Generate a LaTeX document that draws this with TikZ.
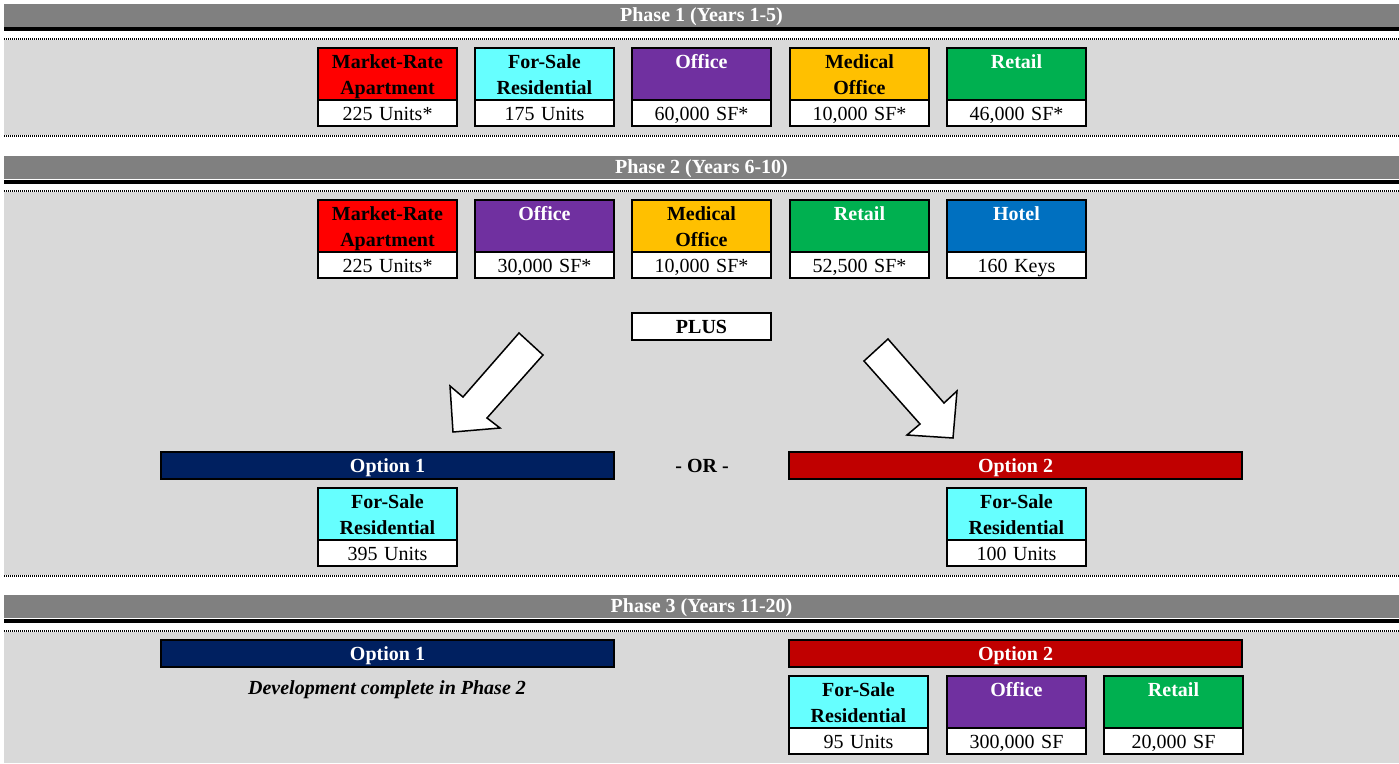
\documentclass[tikz,border=0pt]{standalone}
\usepackage{fontspec}
\setmainfont{Liberation Serif}
\usetikzlibrary{positioning}
\definecolor{bandgray}{RGB}{128,128,128}
\definecolor{panelgray}{RGB}{217,217,217}
\definecolor{aptred}{RGB}{255,0,0}
\definecolor{salecyan}{RGB}{102,255,255}
\definecolor{officepurple}{RGB}{112,48,160}
\definecolor{medyellow}{RGB}{255,192,0}
\definecolor{retailgreen}{RGB}{0,176,80}
\definecolor{hotelblue}{RGB}{0,112,192}
\definecolor{optnavy}{RGB}{0,32,96}
\definecolor{optred}{RGB}{192,0,0}
\newcommand{\cellstrut}{\rule[-5.8pt]{0pt}{26pt}}

\begin{document}
\begin{tikzpicture}[
        x=1pt, y=-1pt,
        every node/.style={
            inner sep=0pt,
            outer sep=0pt,
            font=\fontsize{20}{26}\selectfont
        },
        band/.style={
            fill=bandgray,
            text=white,
            font=\fontsize{20}{26}\selectfont\bfseries,
            text height=14pt,
            text depth=3pt,
            minimum width=1395pt,
            minimum height=23pt,
            anchor=north west
        },
        rule/.style={fill=black},
        dots/.style={draw=black, line width=2pt, dash pattern=on 1pt off 1pt},
        panel/.style={fill=panelgray},
        use/.style={
            draw,
            line width=2pt,
            text width=139pt,
            minimum height=52pt,
            align=center,
            anchor=north west,
            font=\fontsize{20}{26}\selectfont\bfseries,
            execute at begin node=\cellstrut,
            execute at end node=\cellstrut
        },
        qty/.style={
            draw,
            fill=white,
            line width=2pt,
            text width=139pt,
            minimum height=26pt,
            align=center,
            execute at begin node=\cellstrut
        },
        optbar/.style={
            draw,
            line width=2pt,
            text=white,
            text height=15pt,
            text depth=2pt,
            minimum width=453pt,
            minimum height=27pt,
            anchor=north west,
            font=\fontsize{20}{26}\selectfont\bfseries
        },
        plain/.style={
            text height=15pt,
            text depth=2pt,
            font=\fontsize{20}{26}\selectfont\bfseries
        },
        blockarrow/.style={draw, fill=white, line width=1.5pt, line join=miter}
    ]
    \useasboundingbox (0,0) rectangle (1399,763);

    % phase 1
    \node[band] (phase1) at (4,4) {Phase 1 (Years 1-5)};
    \fill[rule] (4,27) rectangle (1399,31);
    \fill[panel] (4,40) rectangle (1399,135);
    \draw[dots] (4,39) -- (1399,39);
    \draw[dots] (4,136) -- (1399,136);

    \node[use, fill=aptred] (p1apt) at (318,48) {Market-Rate\\Apartment};
    \node[qty, below=0pt of p1apt] (p1aptq) {225 Units*};
    \node[use, fill=salecyan] (p1sale) at (475,48) {For-Sale\\Residential};
    \node[qty, below=0pt of p1sale] (p1saleq) {175 Units};
    \node[use, fill=officepurple, text=white] (p1off) at (632,48) {Office\\};
    \node[qty, below=0pt of p1off] (p1offq) {60,000 SF*};
    \node[use, fill=medyellow] (p1med) at (790,48) {Medical\\Office};
    \node[qty, below=0pt of p1med] (p1medq) {10,000 SF*};
    \node[use, fill=retailgreen, text=white] (p1ret) at (947,48) {Retail\\};
    \node[qty, below=0pt of p1ret] (p1retq) {46,000 SF*};

    % phase 2
    \node[band] (phase2) at (4,156) {Phase 2 (Years 6-10)};
    \fill[rule] (4,180) rectangle (1399,184);
    \fill[panel] (4,192) rectangle (1399,575);
    \draw[dots] (4,191) -- (1399,191);
    \draw[dots] (4,576) -- (1399,576);

    \node[use, fill=aptred] (p2apt) at (318,200) {Market-Rate\\Apartment};
    \node[qty, below=0pt of p2apt] (p2aptq) {225 Units*};
    \node[use, fill=officepurple, text=white] (p2off) at (475,200) {Office\\};
    \node[qty, below=0pt of p2off] (p2offq) {30,000 SF*};
    \node[use, fill=medyellow] (p2med) at (632,200) {Medical\\Office};
    \node[qty, below=0pt of p2med] (p2medq) {10,000 SF*};
    \node[use, fill=retailgreen, text=white] (p2ret) at (790,200) {Retail\\};
    \node[qty, below=0pt of p2ret] (p2retq) {52,500 SF*};
    \node[use, fill=hotelblue, text=white] (p2hot) at (947,200) {Hotel\\};
    \node[qty, below=0pt of p2hot] (p2hotq) {160 Keys};

    \node[plain, draw, fill=white, line width=2pt, minimum width=139pt, minimum height=27pt,
        anchor=north west] (plus) at (632,313) {PLUS};

    \draw[blockarrow] (519,333) -- (543,355) -- (487,418) -- (500,428) -- (453,432)
        -- (450,386) -- (463,397) -- cycle;
    \draw[blockarrow] (888,339) -- (864,361) -- (920,424) -- (907,435) -- (953,438)
        -- (957,391) -- (944,403) -- cycle;

    \node[optbar, fill=optnavy] (p2opt1) at (161,452) {Option 1};
    \node[plain] (or) at (702,466) {- OR -};
    \node[optbar, fill=optred] (p2opt2) at (789,452) {Option 2};

    \node[use, fill=salecyan] (p2sale1) at (318,488) {For-Sale\\Residential};
    \node[qty, below=0pt of p2sale1] (p2sale1q) {395 Units};
    \node[use, fill=salecyan] (p2sale2) at (947,488) {For-Sale\\Residential};
    \node[qty, below=0pt of p2sale2] (p2sale2q) {100 Units};

    % phase 3
    \node[band] (phase3) at (4,595) {Phase 3 (Years 11-20)};
    \fill[rule] (4,619) rectangle (1399,623);
    \fill[panel] (4,632) rectangle (1399,763);
    \draw[dots] (4,631) -- (1399,631);

    \node[optbar, fill=optnavy] (p3opt1) at (161,640) {Option 1};
    \node[plain, font=\fontsize{20}{26}\selectfont\bfseries\itshape] (done) at (387,688)
        {Development complete in Phase 2};
    \node[optbar, fill=optred] (p3opt2) at (789,640) {Option 2};

    \node[use, fill=salecyan] (p3sale) at (789,676) {For-Sale\\Residential};
    \node[qty, below=0pt of p3sale] (p3saleq) {95 Units};
    \node[use, fill=officepurple, text=white] (p3off) at (947,676) {Office\\};
    \node[qty, below=0pt of p3off] (p3offq) {300,000 SF};
    \node[use, fill=retailgreen, text=white] (p3ret) at (1104,676) {Retail\\};
    \node[qty, below=0pt of p3ret] (p3retq) {20,000 SF};
\end{tikzpicture}
\end{document}
